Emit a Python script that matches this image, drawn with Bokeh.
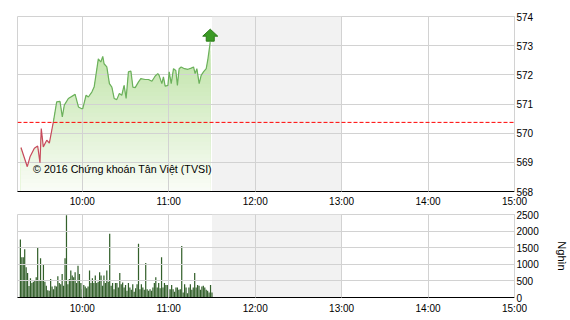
import numpy as np
from bokeh.plotting import figure
from bokeh.layouts import column
from bokeh.models import FixedTicker, BoxAnnotation, Span, Label, Range1d
from bokeh.embed import file_html
from bokeh.resources import INLINE

# ---------------- data (minutes after 09:00) ----------------
price_time = [17.4, 21.8, 23.7, 26.7, 29.0, 30.6, 31.5, 32.9, 35.3, 37.1,
              38.8, 39.9, 42.2, 44.5, 46.1, 47.5, 50.3, 55.0, 57.3, 59.6,
              60.3, 62.6, 64.2, 66.6, 68.2, 69.6, 71.1, 72.8, 74.2, 75.1,
              77.0, 78.8, 80.5, 82.1, 83.9, 85.7, 87.4, 89.0, 90.4, 92.0,
              93.7, 95.1, 96.7, 98.9, 100.6, 103.6, 105.9, 108.3, 110.6, 112.4,
              113.3, 115.2, 116.3, 117.5, 119.4, 120.3, 121.7, 123.3, 124.9, 126.0,
              127.2, 128.6, 130.9, 133.3, 135.6, 137.2, 138.3, 139.5, 141.1, 142.5,
              144.1, 146.0, 147.2, 148.8]
price = [569.51, 568.85, 569.19, 569.48, 569.56, 568.99, 570.16, 569.53, 569.76, 569.66,
         570.10, 570.39, 571.07, 571.09, 570.56, 570.96, 571.19, 571.33, 570.90, 570.84,
         570.84, 571.30, 571.24, 571.41, 571.58, 572.04, 572.55, 572.44, 572.63, 572.38,
         572.27, 571.70, 571.58, 571.19, 571.15, 571.36, 571.30, 571.64, 571.19, 572.10,
         572.13, 571.58, 571.56, 571.75, 571.87, 571.84, 571.84, 571.78, 571.96, 572.04,
         571.98, 571.70, 571.93, 571.61, 571.64, 572.10, 571.70, 572.21, 572.15, 571.64,
         572.21, 572.27, 572.21, 572.19, 572.23, 572.27, 572.04, 572.21, 571.70, 571.98,
         572.10, 572.21, 572.55, 573.12]
ref_price = 570.37

vol_time = list(range(17, 151))
volume = [1750, 1210, 1210, 1450, 910, 740, 350, 580, 435, 475,
          505, 610, 1520, 505, 1180, 505, 980, 475, 355, 220,
          200, 555, 335, 250, 355, 335, 640, 435, 400, 710,
          355, 1180, 2480, 400, 555, 810, 660, 610, 760, 435,
          960, 710, 435, 250, 375, 335, 275, 335, 810, 435,
          580, 435, 660, 435, 475, 760, 660, 355, 660, 435,
          810, 475, 1920, 355, 435, 250, 435, 435, 300, 740,
          400, 455, 300, 375, 200, 435, 300, 230, 400, 170,
          275, 400, 1620, 250, 400, 300, 230, 1040, 250, 200,
          250, 200, 300, 435, 610, 300, 435, 275, 1210, 300,
          435, 375, 375, 250, 250, 375, 250, 170, 300, 300,
          230, 250, 1550, 150, 400, 300, 130, 300, 400, 230,
          300, 740, 300, 375, 355, 230, 335, 355, 300, 230,
          200, 150, 375, 150]

hour_ticks = [60, 120, 180, 240, 300, 360]
hour_labels = ["10:00", "11:00", "12:00", "13:00", "14:00", "15:00"]
price_ticks = [568, 569, 570, 571, 572, 573, 574]
vol_ticks = [0, 500, 1000, 1500, 2000, 2500]
break_start, break_end = 150, 240
session_start, session_end = 15, 360
watermark = "© 2016 Chứng khoán Tân Việt (TVSI)"
vol_unit = "Nghìn"

# ---------------- style ----------------
FONT = "Liberation Sans"
GRID = "#d2d2d2"
x_range = Range1d(session_start, session_end)


def style(p, yticks):
    p.outline_line_color = GRID
    p.outline_line_width = 1
    p.xaxis.ticker = FixedTicker(ticks=hour_ticks)
    p.xaxis.major_label_overrides = {t: l for t, l in zip(hour_ticks, hour_labels)}
    p.xaxis.axis_line_color = "black"
    p.xaxis.axis_line_width = 1
    p.xaxis.major_tick_line_color = None
    p.xaxis.minor_tick_line_color = None
    p.xaxis.major_tick_out = 0
    p.xaxis.major_tick_in = 0
    p.xaxis.minor_tick_out = 0
    p.xaxis.major_label_text_font = FONT
    p.xaxis.major_label_text_font_size = "10px"
    p.xaxis.major_label_text_color = "black"
    p.yaxis.ticker = FixedTicker(ticks=yticks)
    p.yaxis.axis_line_color = GRID
    p.yaxis.major_tick_line_color = None
    p.yaxis.minor_tick_line_color = None
    p.yaxis.major_tick_out = 0
    p.yaxis.major_tick_in = 0
    p.yaxis.minor_tick_out = 0
    p.yaxis.major_label_standoff = 2
    p.yaxis.major_label_text_font = FONT
    p.yaxis.major_label_text_font_size = "10px"
    p.yaxis.major_label_text_color = "black"
    p.xgrid.ticker = FixedTicker(ticks=hour_ticks)
    p.ygrid.ticker = FixedTicker(ticks=yticks)
    for g in (p.xgrid, p.ygrid):
        g.grid_line_color = GRID
        g.grid_line_width = 1
        g.level = "annotation"
    p.add_layout(BoxAnnotation(left=break_start, right=break_end, fill_color="#f2f2f2",
                               fill_alpha=1, line_alpha=0, level="image"))
    p.background_fill_color = "white"
    p.border_fill_color = "white"


# ---------------- price chart ----------------
p1 = figure(width=570, height=209, x_range=x_range, y_range=Range1d(568, 574),
            y_axis_location="right", output_backend="svg", toolbar_location=None,
            min_border_left=17, min_border_right=56, min_border_top=16, min_border_bottom=18)
style(p1, price_ticks)
p1.xaxis.major_label_standoff = 4

t = np.array(price_time)
pr = np.array(price)
lo, hi = 568.0, float(pr.max())
top_c = np.array([190, 227, 166])
bot_c = np.array([251, 253, 248])
nb = 36
edges = np.linspace(lo, hi, nb + 1)[1:]
for e in edges[::-1]:
    f = (e - lo) / (hi - lo)
    c = bot_c + (top_c - bot_c) * f
    col = "#%02x%02x%02x" % tuple(int(round(v)) for v in c)
    p1.varea(x=t, y1=lo, y2=np.minimum(pr, e), fill_color=col, fill_alpha=1)

p1.add_layout(Span(location=ref_price, dimension="width", line_color="#ff0000",
                   line_dash="4 2", line_width=1, level="overlay"))

cross = int(np.argmax(pr > ref_price))
p1.line(t[:cross + 1], pr[:cross + 1], line_color="#c84a5c", line_width=1.2, level="overlay")
p1.line(t[cross:], pr[cross:], line_color="#6cb15c", line_width=1.2, level="overlay")

# up arrow anchored on the last price (shape defined in pixels)
px_x = (session_end - session_start) / 497.0
px_y = 6.0 / 175.0
shape = [(-4, 1), (4, 1), (4, 6), (7.5, 6), (0, 13), (-7.5, 6), (-4, 6)]
ax = [t[-1] + sx * px_x for sx, sy in shape]
ay = [pr[-1] + sy * px_y for sx, sy in shape]
p1.patch(ax, ay, fill_color="#3b9a25", line_color="#2a7b17", line_width=1, level="overlay")

p1.add_layout(Label(x=25.8, y=568.77, text=watermark, text_font=FONT,
                    text_font_size="10.7px", text_color="black", text_baseline="middle",
                    level="overlay"))

# ---------------- volume chart ----------------
p2 = figure(width=570, height=111, x_range=x_range, y_range=Range1d(0, 2500),
            y_axis_location="right", output_backend="svg", toolbar_location=None,
            min_border_left=17, min_border_right=56, min_border_top=5, min_border_bottom=23)
style(p2, vol_ticks)
p2.xaxis.major_label_standoff = 5
p2.vbar(x=vol_time, top=volume, width=0.85, fill_color="#33602b", line_color=None)
p2.yaxis.axis_label = vol_unit
p2.yaxis.axis_label_text_font = FONT
p2.yaxis.axis_label_text_font_size = "11px"
p2.yaxis.axis_label_text_font_style = "normal"
p2.yaxis.axis_label_text_color = "black"
p2.yaxis.axis_label_standoff = 14

layout = column(p1, p2, spacing=0)
open("out.html", "w").write(file_html(layout, INLINE))
